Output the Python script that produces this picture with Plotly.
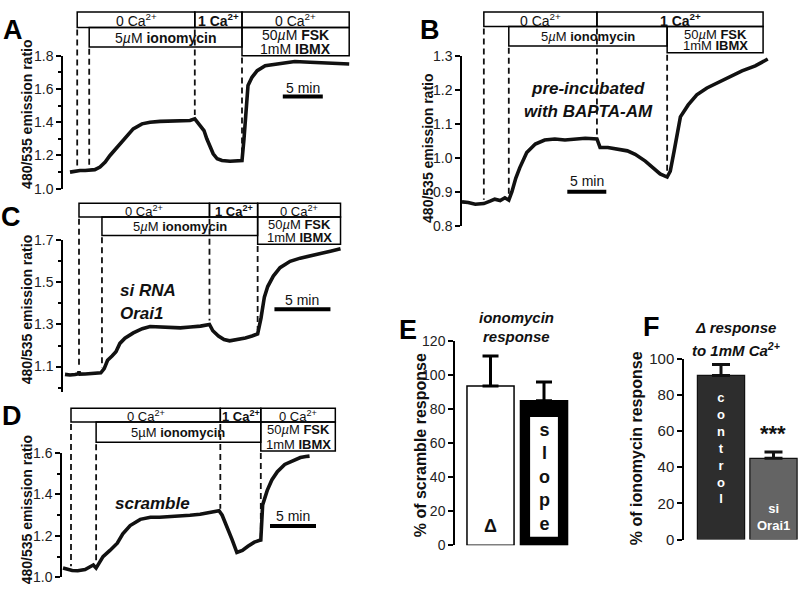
import numpy as np
import plotly.graph_objects as go

W, H = 800, 599
FONT = "Liberation Sans, Arial, Helvetica, sans-serif"

# ---------------- data ----------------
# Panel A (time in min, 480/535 emission ratio)
A_time = [0, 0.6, 1.25, 1.9, 2.5, 3.1, 3.75, 4.4, 5.0, 5.9, 6.9, 7.9, 9.0, 10.0, 11.25, 12.5, 13.75, 15.0, 15.6,
          16.25, 16.75, 17.1, 17.5, 17.9, 18.4, 19.0, 20.0, 21.0, 21.5, 21.75, 22.0, 22.25, 22.75, 23.4, 24.4,
          26.25, 28.1, 30.0, 31.9, 33.75, 34.9]
A_ratio = [1.10, 1.105, 1.11, 1.11, 1.115, 1.115, 1.13, 1.16, 1.20, 1.25, 1.31, 1.36, 1.39, 1.40, 1.405, 1.405,
           1.41, 1.41, 1.42, 1.38, 1.35, 1.30, 1.25, 1.21, 1.18, 1.17, 1.165, 1.17, 1.17, 1.30, 1.50, 1.62, 1.67,
           1.71, 1.74, 1.755, 1.765, 1.76, 1.755, 1.75, 1.75]
A_events = [0.9, 2.4, 15.6, 21.5]
A_end = 34.9

# Panel B
B_time = [0, 0.8, 1.7, 2.8, 3.6, 4.2, 4.9, 5.5, 6.0, 6.4, 6.9, 7.4, 8.3, 9.4, 10.6, 11.9, 13.2, 14.5, 15.8, 17.3,
          17.7, 18.7, 19.9, 21.2, 22.2, 23.5, 24.5, 25.4, 26.3, 26.7, 27.2, 28.0, 29.0, 30.1, 31.4, 32.7, 34.4,
          35.9, 37.6, 39.2]
B_ratio = [0.87, 0.868, 0.863, 0.865, 0.872, 0.878, 0.874, 0.882, 0.875, 0.90, 0.94, 0.97, 1.015, 1.04, 1.052,
           1.055, 1.052, 1.055, 1.057, 1.055, 1.03, 1.03, 1.025, 1.02, 1.01, 0.99, 0.97, 0.952, 0.943, 0.96,
           1.02, 1.12, 1.155, 1.185, 1.205, 1.22, 1.24, 1.255, 1.27, 1.29]
B_events = [2.8, 6.0, 17.3, 26.3]
B_end = 38.6

# Panel C
C_time = [0, 0.45, 0.9, 1.16, 1.25, 1.34, 1.8, 2.2, 2.7, 3.2, 3.5, 3.8, 4.2, 4.55, 4.9, 5.35, 6.1, 6.9, 7.6, 8.5,
          9.4, 10.3, 11.2, 12.1, 12.9, 13.2, 13.7, 14.2, 14.7, 15.4, 16.1, 16.7, 17.2, 17.5, 17.8, 18.1, 18.6,
          19.2, 20.1, 21.0, 21.9, 22.8, 23.7, 24.6]
C_ratio = [1.063, 1.06, 1.062, 1.065, 1.075, 1.064, 1.065, 1.066, 1.068, 1.07, 1.09, 1.13, 1.15, 1.17, 1.21,
           1.235, 1.26, 1.28, 1.29, 1.288, 1.285, 1.284, 1.288, 1.292, 1.30, 1.27, 1.245, 1.228, 1.222, 1.228,
           1.236, 1.245, 1.255, 1.33, 1.43, 1.48, 1.53, 1.57, 1.60, 1.615, 1.625, 1.638, 1.648, 1.66]
C_events = [1.25, 3.3, 12.9, 17.2]
C_end = 24.6

# Panel D
D_time = [0, 0.43, 1.0, 1.6, 2.4, 2.9, 3.3, 3.6, 3.8, 4.35, 5.1, 5.9, 6.5, 7.3, 8.4, 9.5, 10.5, 11.6, 12.7, 13.8,
          14.9, 16.0, 16.96, 17.3, 17.8, 18.4, 18.9, 19.5, 20.1, 20.8, 21.3, 21.5, 21.7, 22.2, 22.7, 23.3, 24.1,
          25.0, 25.8, 26.4, 26.8]
D_ratio = [1.045, 1.04, 1.033, 1.032, 1.038, 1.05, 1.06, 1.045, 1.06, 1.10, 1.13, 1.165, 1.21, 1.25, 1.28, 1.29,
           1.29, 1.292, 1.295, 1.30, 1.305, 1.312, 1.322, 1.30, 1.25, 1.18, 1.12, 1.13, 1.15, 1.17, 1.178, 1.18,
           1.35, 1.42, 1.47, 1.51, 1.545, 1.565, 1.578, 1.583, 1.585]
D_events = [0.87, 3.6, 17.1, 21.5]
D_end = 29.6

# Panel E (% of scramble response)
E_values = [93.7, 85.0]
E_errors = [17.7, 11.0]
E_inner = [5.0, 75.4]      # white inner box of the "slope" bar
E_ticks = [0, 20, 40, 60, 80, 100, 120]

# Panel F (% of ionomycin response)
F_values = [90.8, 44.9]
F_errors = [6.0, 3.5]
F_ticks = [0, 20, 40, 60, 80, 100]

ROW1_A = ["0 Ca<sup>2+</sup>", "<b>1 Ca<sup>2+</sup></b>", "0 Ca<sup>2+</sup>"]
ROW1_B = ["0 Ca<sup>2+</sup>", "<b>1 Ca<sup>2+</sup></b>"]

# ---------------- helpers ----------------
def xp(p):
    return p / W


def yp(p):
    return 1 - p / H


fig = go.Figure()
shapes = []
ann = []


def text(x, y, s, size=13, xref="paper", yref="paper", color="#111", angle=0, xanchor="center"):
    ann.append(dict(x=x, y=y, xref=xref, yref=yref, text=s, showarrow=False, textangle=angle,
                    xanchor=xanchor, yanchor="middle", borderpad=0,
                    font=dict(family=FONT, size=size, color=color)))


panels = [
    dict(n=1, t=A_time, v=A_ratio, ev=A_events, end=A_end, row1=ROW1_A, origin=70, ppm=8.0,
         xd=(63, 352), yd=(48, 185), yr=(1.0, 1.8), major=[1.0, 1.2, 1.4, 1.6, 1.8], minor=[1.1, 1.3, 1.5, 1.7],
         r1=(3, 19), r2=(19, 39), fsk=(19, 48), sb=(26.6, 90, 81), fs=14, fs2=14, ylab=(27, 109),
         letter=("A", 13, 22), iono="5<i>µ</i>M <b>ionomycin</b>"),
    dict(n=2, t=B_time, v=B_ratio, ev=B_events, end=B_end, row1=ROW1_B, origin=462, ppm=7.8,
         xd=(462, 770), yd=(48, 223), yr=(0.8, 1.3), major=[0.8, 0.9, 1.0, 1.1, 1.2, 1.3], minor=[],
         r1=(3, 18), r2=(18, 38), fsk=(18, 45), sb=(13.5, 188, 177), fs=14, fs2=13, ylab=(428, 144),
         letter=("B", 430, 22), iono="5<i>µ</i>M <b>ionomycin</b>"),
    dict(n=3, t=C_time, v=C_ratio, ev=C_events, end=C_end, row1=ROW1_A, origin=65, ppm=11.2,
         xd=(63, 342), yd=(238, 394), yr=(0.98, 1.7), major=[1.1, 1.3, 1.5, 1.7], minor=[1.0, 1.2, 1.4, 1.6],
         r1=(200, 214), r2=(214, 233), fsk=(214, 242), sb=(18.7, 309, 300), fs=13, fs2=13, ylab=(27, 310),
         letter=("C", 11, 214), iono="5<i>µ</i>M <b>ionomycin</b>"),
    dict(n=4, t=D_time, v=D_ratio, ev=D_events, end=D_end, row1=ROW1_A, origin=63, ppm=9.2,
         xd=(62, 337), yd=(457, 585), yr=(1.0, 1.6), major=[1.0, 1.2, 1.4, 1.6], minor=[1.1, 1.3, 1.5],
         r1=(411, 425), r2=(425, 446), fsk=(425, 455), sb=(22.5, 532, 522), fs=13, fs2=13, ylab=(27, 516),
         letter=("D", 12, 419), iono="5µM <b>ionomycin</b>"),
]

axis_common = dict(showgrid=False, zeroline=False, showline=True, linecolor="black", linewidth=1.5,
                   ticks="outside", ticklen=5, tickwidth=1.5, tickcolor="black",
                   tickfont=dict(family=FONT, size=14, color="#222"))

layout_axes = {}
for p in panels:
    n = p["n"]
    xa = "x" if n == 1 else f"x{n}"
    ya = "y" if n == 1 else f"y{n}"
    xk = "xaxis" if n == 1 else f"xaxis{n}"
    yk = "yaxis" if n == 1 else f"yaxis{n}"
    fig.add_trace(go.Scatter(x=p["t"], y=p["v"], mode="lines", line=dict(color="#111", width=3.6),
                             xaxis=xa, yaxis=ya, hoverinfo="skip", showlegend=False))
    x0, x1 = p["xd"]
    layout_axes[xk] = dict(domain=[xp(x0), xp(x1)], range=[(x0 - p["origin"]) / p["ppm"], (x1 - p["origin"]) / p["ppm"]],
                           visible=False, anchor=ya)
    ytop, ybot = p["yd"]
    ycfg = dict(axis_common)
    ycfg.update(domain=[yp(ybot), yp(ytop)], range=list(p["yr"]), anchor=xa,
                tickvals=p["major"], ticktext=[f"{v:.1f}" for v in p["major"]])
    if p["minor"]:
        ycfg["minor"] = dict(tickvals=p["minor"], ticks="outside", ticklen=3, tickwidth=1.5, tickcolor="black",
                             showgrid=False)
    layout_axes[yk] = ycfg

    def v2p(v, p=p):
        ytop, ybot = p["yd"]
        f = (v - p["yr"][0]) / (p["yr"][1] - p["yr"][0])
        return yp(ybot - f * (ybot - ytop))

    ev, end = p["ev"], p["end"]
    r1, r2, fsk = p["r1"], p["r2"], p["fsk"]
    fs, fs2 = p["fs"], p["fs2"]
    # top row boxes
    edges = [ev[0], ev[2], ev[3], end] if len(p["row1"]) == 3 else [ev[0], ev[2], end]
    for i, lab in enumerate(p["row1"]):
        shapes.append(dict(type="rect", xref=xa, yref="paper", x0=edges[i], x1=edges[i + 1],
                           y0=yp(r1[1]), y1=yp(r1[0]), line=dict(color="black", width=1.5)))
        text((edges[i] + edges[i + 1]) / 2, yp((r1[0] + r1[1]) / 2 + 0.5), lab, size=fs, xref=xa)
    # second row
    shapes.append(dict(type="rect", xref=xa, yref="paper", x0=ev[1], x1=ev[3], y0=yp(r2[1]), y1=yp(r2[0]),
                       line=dict(color="black", width=1.5)))
    text((ev[1] + ev[3]) / 2, yp((r2[0] + r2[1]) / 2 + 0.5), p["iono"], size=fs2, xref=xa)
    shapes.append(dict(type="rect", xref=xa, yref="paper", x0=ev[3], x1=end, y0=yp(fsk[1]), y1=yp(fsk[0]),
                       line=dict(color="black", width=1.5)))
    text((ev[3] + end) / 2, yp(fsk[0] + 8), "50<i>µ</i>M <b>FSK</b>", size=fs2, xref=xa)
    text((ev[3] + end) / 2, yp(fsk[1] - 7), "1mM <b>IBMX</b>", size=fs2, xref=xa)
    # dashed lines
    tops = [r1[1], r2[1], r1[1], fsk[1]]
    for e, top in zip(ev, tops):
        yv = float(np.interp(e, p["t"], p["v"]))
        shapes.append(dict(type="line", xref=xa, yref="paper", x0=e, x1=e, y0=yp(top + 2), y1=v2p(yv) + 4 / H,
                           line=dict(color="#111", width=1.8, dash="6px,4px")))
    # scale bar
    sbt, sby, sbty = p["sb"]
    shapes.append(dict(type="line", xref=xa, yref="paper", x0=sbt, x1=sbt + 5, y0=yp(sby), y1=yp(sby),
                       line=dict(color="black", width=4)))
    text(sbt + 2.5, yp(sbty), "5 min", size=14, xref=xa)
    # y label and panel letter
    text(xp(p["ylab"][0]), yp(p["ylab"][1]), "<b>480/535 emission ratio</b>", size=14, angle=-90)
    L, lx, ly = p["letter"]
    text(xp(lx), yp(ly), f"<b>{L}</b>", size=27, color="black")

# panel annotations inside traces
text(xp(588), yp(82), "<b><i>pre-incubated</i></b>", size=17)
text(xp(588), yp(105), "<b><i>with BAPTA-AM</i></b>", size=17)
text(xp(119), yp(290), "<b><i>si RNA</i></b>", size=17, xanchor="left")
text(xp(119), yp(313), "<b><i>Orai1</i></b>", size=17, xanchor="left")
text(xp(152), yp(509), "<b><i>scramble</i></b>", size=17)

# ---------------- panel E ----------------
fig.add_trace(go.Bar(x=[0, 1], y=E_values, width=0.88, xaxis="x5", yaxis="y5",
                     marker=dict(color=["white", "black"], line=dict(color="black", width=1.5)),
                     error_y=dict(type="data", symmetric=False, array=E_errors, arrayminus=[0, 0],
                                  color="black", thickness=3, width=8),
                     showlegend=False, hoverinfo="skip"))
fig.add_trace(go.Bar(x=[1], y=[E_inner[1] - E_inner[0]], base=[E_inner[0]], width=0.52, xaxis="x5", yaxis="y5",
                     marker=dict(color="white", line=dict(width=0)), showlegend=False, hoverinfo="skip"))
layout_axes["xaxis5"] = dict(domain=[xp(455), xp(580)], range=[-0.664, 1.673], visible=False, anchor="y5")
ecfg = dict(axis_common)
ecfg.update(domain=[yp(552), yp(342)], range=[0, 120], anchor="x5", tickvals=E_ticks,
            ticktext=[str(v) for v in E_ticks])
layout_axes["yaxis5"] = ecfg
text(0, 11.4, "<b>Δ</b>", size=18, xref="x5", yref="y5")
text(1, 40.0, "<b>s<br>l<br>o<br>p<br>e</b>", size=18, xref="x5", yref="y5")
text(xp(516), yp(318), "<b><i>ionomycin</i></b>", size=15)
text(xp(516), yp(337), "<b><i>response</i></b>", size=15)
text(xp(420), yp(449), "<b>% of scramble response</b>", size=16, angle=-90)
text(xp(408), yp(330), "<b>E</b>", size=27, color="black")

# ---------------- panel F ----------------
fig.add_trace(go.Bar(x=[0, 1], y=F_values, width=0.9, xaxis="x6", yaxis="y6",
                     marker=dict(color=["#2d2d2d", "#646464"], line=dict(color="#111", width=1.2)),
                     error_y=dict(type="data", symmetric=False, array=F_errors, arrayminus=[0, 0],
                                  color="#111", thickness=3, width=9),
                     showlegend=False, hoverinfo="skip"))
layout_axes["xaxis6"] = dict(domain=[xp(684), xp(800)], range=[-0.705, 1.505], visible=False, anchor="y6")
fcfg = dict(axis_common)
fcfg.update(domain=[yp(546), yp(360)], range=[0, 100], anchor="x6", tickvals=F_ticks,
            ticktext=[str(v) for v in F_ticks], tickfont=dict(family=FONT, size=15, color="#222"))
layout_axes["yaxis6"] = fcfg
text(0, 50.5, "<b>c<br>o<br>n<br>t<br>r<br>o<br>l</b>", size=13, xref="x6", yref="y6", color="white")
text(1, 12.6, "<b>si<br>Orai1</b>", size=13, xref="x6", yref="y6", color="white")
text(1, 58.5, "<b>***</b>", size=22, xref="x6", yref="y6", color="#111")
text(xp(735), yp(328), "<b><i>Δ response</i></b>", size=15)
text(xp(736), yp(350), "<b><i>to 1mM Ca<sup>2+</sup></i></b>", size=15)
text(xp(636), yp(452), "<b>% of ionomycin response</b>", size=16, angle=-90)
text(xp(651), yp(327), "<b>F</b>", size=27, color="black")

fig.update_layout(width=W, height=H, margin=dict(l=0, r=0, t=0, b=0), paper_bgcolor="white",
                  plot_bgcolor="white", showlegend=False, barmode="overlay", shapes=shapes, annotations=ann,
                  font=dict(family=FONT, color="#111"), **layout_axes)

fig.write_html("out.html", config={"displayModeBar": False},
               post_script="document.body.style.margin='0px';document.body.style.padding='0px';")
